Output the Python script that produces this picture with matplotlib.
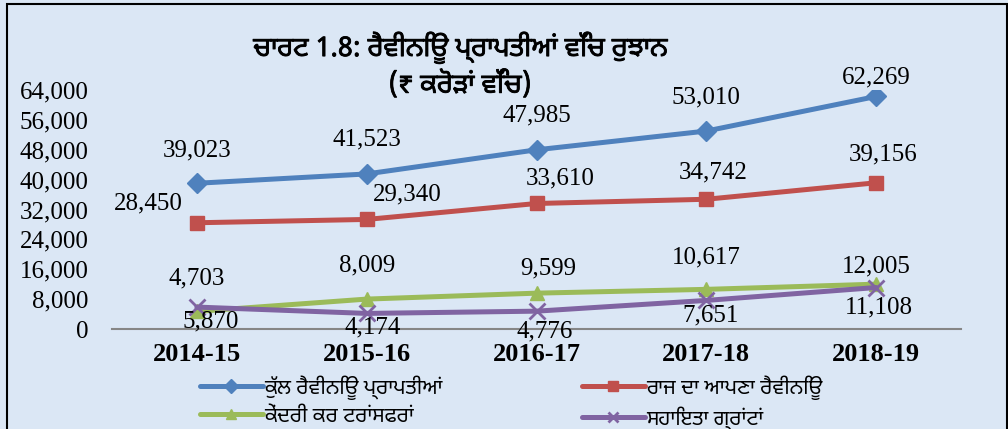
import matplotlib
matplotlib.use("Agg")
import matplotlib.pyplot as plt
from matplotlib import font_manager
from matplotlib import patheffects
from matplotlib.ticker import FuncFormatter
from matplotlib.patches import Rectangle

# data
years = ["2014-15", "2015-16", "2016-17", "2017-18", "2018-19"]
total_rev = [39023, 41523, 47985, 53010, 62269]
own_rev = [28450, 29340, 33610, 34742, 39156]
central_tax = [4703, 8009, 9599, 10617, 12005]
grants = [5870, 4174, 4776, 7651, 11108]

series_names = ["ਕੁੱਲ ਰੈਵੀਨਿਊ ਪ੍ਰਾਪਤੀਆਂ", "ਰਾਜ ਦਾ ਆਪਣਾ ਰੈਵੀਨਿਊ",
                "ਕੇਂਦਰੀ ਕਰ ਟਰਾਂਸਫਰਾਂ", "ਸਹਾਇਤਾ ਗ੍ਰਾਂਟਾਂ"]
title1 = "ਚਾਰਟ 1.8: ਰੈਵੀਨਿਊ ਪ੍ਰਾਪਤੀਆਂ ਵਿੱਚ ਰੁਝਾਨ"
title2 = "(₹ ਕਰੋੜਾਂ ਵਿੱਚ)"


def find_gurmukhi():
    # pick an installed font that covers Gurmukhi, proportional ones first
    try:
        from fontTools.ttLib import TTFont
    except ImportError:
        return None
    found = []
    for f in font_manager.fontManager.ttflist:
        try:
            tt = TTFont(f.fname, fontNumber=0, lazy=True)
            if 0x0A30 in tt.getBestCmap():
                found.append(f.name)
        except Exception:
            pass
    if not found:
        return None

    def rank(n):
        return ("mono" in n.lower(), "gurmukhi" not in n.lower(), "serif" in n.lower())
    return sorted(set(found), key=rank)[0]


gfont = find_gurmukhi()
pa_family = ([gfont] if gfont else []) + ["DejaVu Sans"]
serif = "Liberation Serif"

bg = "#dbe7f5"
colors = ["#4f81bd", "#c0504d", "#9bbb59", "#8064a2"]
markers = ["D", "s", "^", "x"]
msizes = [10, 10, 10, 11]

# label offsets in pixels (dx, dy)
offsets = [
    [(0, 33), (0, 34), (0, 34), (0, 34), (0, 19)],
    [(-49, 19), (41, 25), (24, 25), (7, 27), (7, 28)],
    [(0, 33), (0, 34), (12, 25), (0, 32), (0, 18)],
    [(14, -14), (6, -14), (8, -20), (4, -15), (3, -20)],
]

fig = plt.figure(figsize=(10.08, 4.29), dpi=100, facecolor=bg)
fig.patches.append(Rectangle((7 / 1008, -0.1), 1000 / 1008, 1 - 4 / 429 + 0.1,
                             transform=fig.transFigure, fill=False,
                             edgecolor="black", linewidth=1.5))
ax = fig.add_axes([112 / 1008, 1 - 329 / 429, 849 / 1008, 239 / 429])
ax.set_facecolor("none")

x = list(range(len(years)))
all_series = [total_rev, own_rev, central_tax, grants]
lines = []
for i, vals in enumerate(all_series):
    ln, = ax.plot(x, vals, color=colors[i], lw=3.6, marker=markers[i],
                  markersize=msizes[i], markeredgewidth=2 if markers[i] == "x" else 1,
                  markeredgecolor=colors[i], label=series_names[i],
                  solid_capstyle="round", zorder=3 + i)
    lines.append(ln)
    for j, v in enumerate(vals):
        dx, dy = offsets[i][j]
        ax.annotate(f"{v:,}", (j, v), xytext=(dx, dy), textcoords="offset pixels",
                    ha="center", va="center", fontsize=18, family=serif,
                    color="black", zorder=10)

ax.set_xlim(-0.5, 4.5)
ax.set_ylim(0, 64000)
ax.set_yticks(range(0, 64001, 8000))
ax.yaxis.set_major_formatter(FuncFormatter(lambda v, p: f"{int(v):,}"))
ax.set_xticks(x)
ax.set_xticklabels(years, fontsize=19, fontweight="bold", family=serif)
for lbl in ax.get_yticklabels():
    lbl.set_family(serif)
    lbl.set_fontsize(18)
ax.tick_params(axis="y", length=0, pad=17)
ax.tick_params(axis="x", length=0, pad=10)
for s in ["left", "right", "top"]:
    ax.spines[s].set_visible(False)
ax.spines["bottom"].set_color("#868686")
ax.spines["bottom"].set_linewidth(1.5)

# fake bold for the title, the Gurmukhi font may have no bold face
bold_fx = [patheffects.withStroke(linewidth=0.6, foreground="black")]
fig.text(460 / 1008, 1 - 48 / 429, title1, ha="center", va="center",
         fontsize=19.5, fontweight="bold", family=pa_family, path_effects=bold_fx)
fig.text(460 / 1008, 1 - 85 / 429, title2, ha="center", va="center",
         fontsize=19.5, fontweight="bold", family=pa_family, path_effects=bold_fx)

leg_kw = dict(frameon=False, handlelength=3.0, handletextpad=0.1,
              labelspacing=0.3, borderpad=0, borderaxespad=0,
              prop={"family": pa_family, "size": 15}, markerscale=0.7)
leg1 = fig.legend([lines[0], lines[2]], [series_names[0], series_names[2]],
                  loc="upper left", bbox_to_anchor=(200 / 1008, 1 - 375 / 429), **leg_kw)
leg2 = fig.legend([lines[1], lines[3]], [series_names[1], series_names[3]],
                  loc="upper left", bbox_to_anchor=(582 / 1008, 1 - 375 / 429), **leg_kw)

fig.savefig("out.png", dpi=100, facecolor=bg)
